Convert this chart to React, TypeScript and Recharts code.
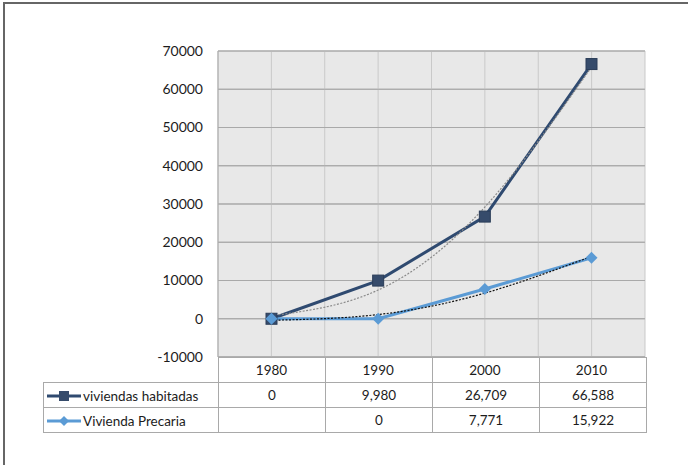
import { LineChart, Line, XAxis, YAxis, CartesianGrid } from "recharts";

const years = ["1980", "1990", "2000", "2010"];
const habitadas = [0, 9980, 26709, 66588];
const precaria: (number | null)[] = [null, 0, 7771, 15922];
// polynomial trend lines at each year
const habitadasTrend = [800, 7500, 29200, 65800];
const precariaTrend = [-400, 1100, 6700, 16300];
const yTicks = [-10000, 0, 10000, 20000, 30000, 40000, 50000, 60000, 70000];

const DARK = "#2f4a70";
const LIGHT = "#5b9bd5";
const FONT = "Lato, 'Noto Sans', sans-serif";
const TEXT = "#1c1c1c";
const GRID_H = "#a9a9a9";
const GRID_V = "#c9c9c9";

// Excel plots the empty 1980 cell as zero
const data = years.map((year, i) => ({
  year,
  habitadas: habitadas[i],
  precaria: precaria[i] ?? 0,
  habitadasTrend: habitadasTrend[i],
  precariaTrend: precariaTrend[i],
}));

const fmt = (v: number | null) => (v === null ? "" : v.toLocaleString("en-US"));

const SquareDot = (props: any) => {
  const { cx, cy } = props;
  if (cx == null || cy == null) return null;
  return <rect x={cx - 5.5} y={cy - 5.5} width={11} height={11} fill="#364b6b" stroke="#2a3c58" strokeWidth={1} />;
};

const DiamondDot = (props: any) => {
  const { cx, cy } = props;
  if (cx == null || cy == null) return null;
  const r = 6;
  return <polygon points={`${cx},${cy - r} ${cx + r},${cy} ${cx},${cy + r} ${cx - r},${cy}`} fill={LIGHT} />;
};

const LegendKey = ({ color, marker }: { color: string; marker: "square" | "diamond" }) => (
  <svg width={34} height={12} style={{ verticalAlign: "middle", marginRight: 2 }}>
    <line x1={0} y1={6} x2={34} y2={6} stroke={color} strokeWidth={3} />
    {marker === "square" ? (
      <rect x={12} y={1} width={10} height={10} fill="#364b6b" />
    ) : (
      <polygon points="17,1 22,6 17,11 12,6" fill={color} />
    )}
  </svg>
);

const cell: React.CSSProperties = {
  border: `1px solid ${GRID_H}`,
  textAlign: "center",
  padding: 0,
  height: 24,
};

const rows = [
  { name: "viviendas habitadas", values: habitadas as (number | null)[], color: DARK, marker: "square" as const },
  { name: "Vivienda Precaria", values: precaria, color: LIGHT, marker: "diamond" as const },
];

export default function App() {
  return (
    <div style={{ position: "absolute", left: 0, top: 0, width: 688, height: 465, background: "#fff", fontFamily: FONT, overflow: "hidden" }}>
      <div style={{ position: "absolute", left: 3, top: 2, width: 690, height: 470, borderTop: "2px solid #666", borderLeft: "2px solid #666" }} />
      <LineChart width={688} height={465} data={data} margin={{ top: 51, right: 43, bottom: 78, left: 158 }}>
        <CartesianGrid fill="#e8e8e8" stroke={GRID_H} vertical={false} />
        <CartesianGrid
          stroke={GRID_V}
          horizontal={false}
          verticalCoordinatesGenerator={({ offset }: any) =>
            Array.from({ length: 9 }, (_, i) => offset.left + (offset.width * i) / 8)
          }
        />
        <CartesianGrid stroke={GRID_H} vertical={false} />
        <XAxis
          dataKey="year"
          padding={{ left: 53.5, right: 53.5 }}
          axisLine={{ stroke: GRID_H }}
          tickLine={false}
          tickSize={0}
          tickMargin={8}
          height={30}
          tick={{ fill: TEXT, fontSize: 13.5, fontFamily: FONT }}
        />
        <YAxis
          domain={[-10000, 70000]}
          ticks={yTicks}
          interval={0}
          width={60}
          axisLine={{ stroke: GRID_H }}
          tickLine={false}
          tickSize={0}
          tickMargin={15}
          tick={{ fill: TEXT, fontSize: 14, fontFamily: FONT }}
        />
        <Line dataKey="habitadas" stroke={DARK} strokeWidth={3} dot={<SquareDot />} activeDot={false} isAnimationActive={false} />
        <Line dataKey="precaria" stroke={LIGHT} strokeWidth={3} dot={<DiamondDot />} activeDot={false} isAnimationActive={false} />
        <Line type="natural" dataKey="habitadasTrend" stroke="#8a8a8a" strokeWidth={1.2} strokeDasharray="2 1.5" dot={false} activeDot={false} isAnimationActive={false} />
        <Line type="natural" dataKey="precariaTrend" stroke="#111" strokeWidth={1.2} strokeDasharray="2 1.5" dot={false} activeDot={false} isAnimationActive={false} />
      </LineChart>
      <table
        style={{
          position: "absolute",
          left: 43,
          top: 357,
          borderCollapse: "collapse",
          tableLayout: "fixed",
          fontFamily: FONT,
          fontSize: 13.5,
          color: TEXT,
        }}
      >
        <colgroup>
          <col style={{ width: 175 }} />
          {years.map((y) => (
            <col key={y} style={{ width: 107 }} />
          ))}
        </colgroup>
        <tbody>
          <tr>
            <td style={{ ...cell, border: "none", borderRight: `1px solid ${GRID_H}` }} />
            {years.map((y) => (
              <td key={y} style={cell} />
            ))}
          </tr>
          {rows.map((r) => (
            <tr key={r.name}>
              <td style={{ ...cell, textAlign: "left", paddingLeft: 3, whiteSpace: "nowrap" }}>
                <LegendKey color={r.color} marker={r.marker} />
                <span style={{ verticalAlign: "middle" }}>{r.name}</span>
              </td>
              {r.values.map((v, i) => (
                <td key={i} style={cell}>
                  {fmt(v)}
                </td>
              ))}
            </tr>
          ))}
        </tbody>
      </table>
    </div>
  );
}
